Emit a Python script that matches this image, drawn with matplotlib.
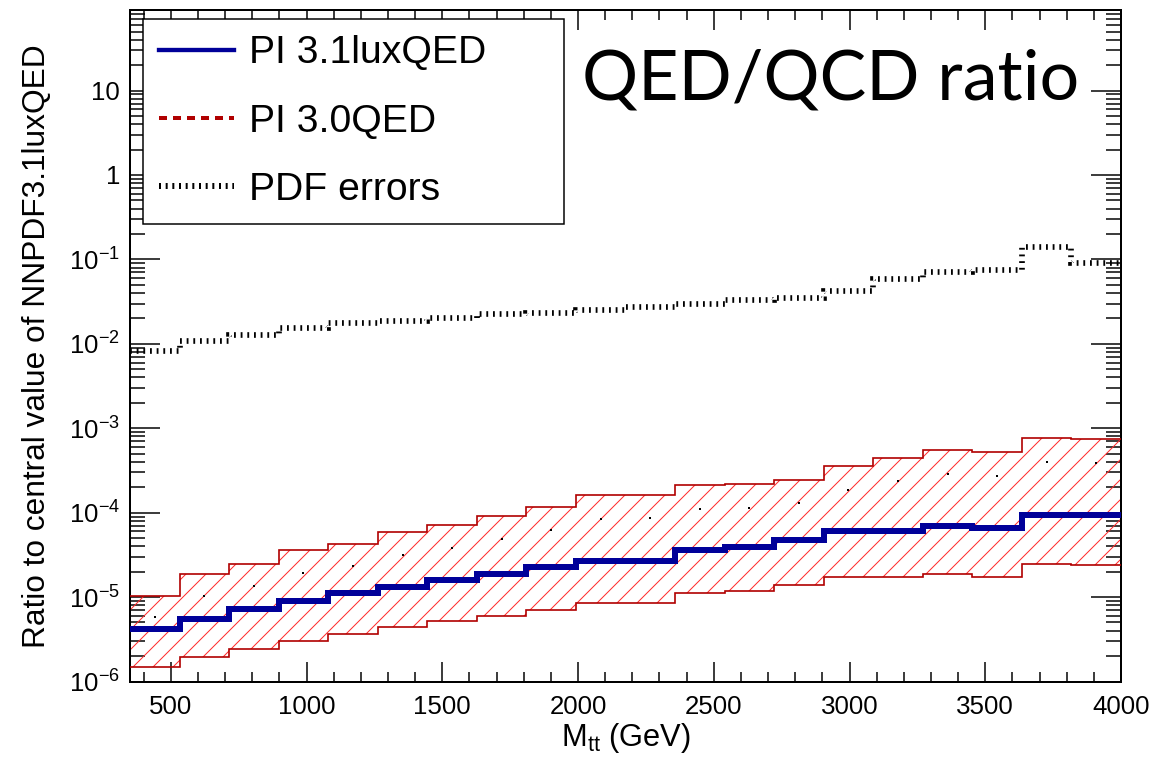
import numpy as np
import matplotlib.pyplot as plt
from matplotlib.lines import Line2D
from matplotlib.ticker import FixedLocator, MultipleLocator, NullFormatter

plt.rcParams['font.family'] = ['Liberation Sans', 'DejaVu Sans']
plt.rcParams['mathtext.fontset'] = 'custom'
plt.rcParams['mathtext.rm'] = 'Liberation Sans'
plt.rcParams['mathtext.it'] = 'Liberation Sans:italic'
plt.rcParams['mathtext.default'] = 'regular'
plt.rcParams['hatch.linewidth'] = 0.6
plt.rcParams['lines.scale_dashes'] = False

# bin edges in M_tt (GeV)
edges = [350, 532.5, 715, 897.5, 1080, 1262.5, 1445, 1627.5, 1810, 1992.5, 2175,
         2357.5, 2540, 2722.5, 2905, 3087.5, 3270, 3452.5, 3635, 3817.5, 4000]

# PI 3.1luxQED central ratio
lux = [4.16e-6, 5.57e-6, 7.2e-6, 8.97e-6, 1.11e-5, 1.33e-5, 1.59e-5, 1.89e-5, 2.28e-5, 2.68e-5,
       2.7e-5, 3.63e-5, 3.9e-5, 4.77e-5, 6.0e-5, 6.1e-5, 6.87e-5, 6.5e-5, 9.46e-5, 9.3e-5]

# PI 3.0QED band (upper / lower) and central dots
qed_up = [1.02e-5, 1.86e-5, 2.47e-5, 3.6e-5, 4.3e-5, 5.9e-5, 7.06e-5, 9.1e-5, 1.18e-4, 1.61e-4,
          1.64e-4, 2.11e-4, 2.17e-4, 2.45e-4, 3.56e-4, 4.48e-4, 5.6e-4, 5.3e-4, 7.6e-4, 7.5e-4]
qed_lo = [1.48e-6, 1.95e-6, 2.45e-6, 3.05e-6, 3.69e-6, 4.39e-6, 5.18e-6, 6.05e-6, 7.06e-6, 8.4e-6,
          8.4e-6, 1.13e-5, 1.18e-5, 1.38e-5, 1.71e-5, 1.71e-5, 1.89e-5, 1.75e-5, 2.49e-5, 2.38e-5]
qed_mid = [5.8e-6, 1.04e-5, 1.36e-5, 1.95e-5, 2.34e-5, 3.16e-5, 3.83e-5, 4.86e-5, 6.28e-5, 8.4e-5,
           8.55e-5, 1.12e-4, 1.15e-4, 1.30e-4, 1.88e-4, 2.34e-4, 2.91e-4, 2.75e-4, 3.94e-4, 3.86e-4]

# PDF errors
pdf_err = [8.2e-3, 1.08e-2, 1.28e-2, 1.55e-2, 1.75e-2, 1.88e-2, 2.02e-2, 2.23e-2, 2.32e-2, 2.49e-2,
           2.74e-2, 2.94e-2, 3.28e-2, 3.5e-2, 4.24e-2, 5.89e-2, 7.0e-2, 7.4e-2, 1.42e-1, 9.1e-2]

ytick_vals = [1e-6, 1e-5, 1e-4, 1e-3, 1e-2, 1e-1, 1, 10]
ytick_labels = ['$10^{-6}$', '$10^{-5}$', '$10^{-4}$', '$10^{-3}$', '$10^{-2}$', '$10^{-1}$', '1', '10']

blue = '#000099'
dred = '#b00000'

fig = plt.figure(figsize=(1154 / 120, 759 / 120), dpi=120)
ax = fig.add_axes([0.1127, 0.1021, 0.8587, 0.8847])

centers = [(a + b) / 2 for a, b in zip(edges[:-1], edges[1:])]

ax.stairs(qed_up, edges, baseline=qed_lo, fill=True, facecolor='none',
          edgecolor='#ff2a2a', linewidth=0, hatch='//', zorder=2)
ax.stairs(qed_up, edges, baseline=None, color=dred, linewidth=1.0, zorder=3)
ax.stairs(qed_lo, edges, baseline=None, color=dred, linewidth=1.0, zorder=3)
ax.plot(centers, qed_mid, 's', color='black', markersize=1.3, markeredgewidth=0, zorder=4)
ax.stairs(lux, edges, baseline=None, color=blue, linewidth=3.6, zorder=5)
pdf_line = ax.stairs(pdf_err, edges, baseline=None, color='black', linewidth=3.4, zorder=5)
pdf_line.set_linestyle((0, (1.1, 2.9)))

ax.set_yscale('log')
ax.set_xlim(350, 4000)
ax.set_ylim(1e-6, 90)

ax.xaxis.set_major_locator(MultipleLocator(500))
ax.xaxis.set_minor_locator(MultipleLocator(100))
ax.yaxis.set_major_locator(FixedLocator(ytick_vals))
ax.set_yticklabels(ytick_labels)
minor_y = [m * 10.0 ** e for e in range(-6, 2) for m in range(2, 10)]
ax.yaxis.set_minor_locator(FixedLocator(minor_y))
ax.yaxis.set_minor_formatter(NullFormatter())

ax.tick_params(axis='both', which='both', direction='in', top=True, right=True,
               width=0.9, labelsize=15.5)
ax.tick_params(axis='x', which='major', length=12, pad=8)
ax.tick_params(axis='x', which='minor', length=6)
ax.tick_params(axis='y', which='major', length=18, pad=6)
ax.tick_params(axis='y', which='minor', length=9)
for s in ax.spines.values():
    s.set_linewidth(1.2)

ax.set_xlabel(r'M$_{\mathrm{tt}}$ (GeV)', fontsize=18.5, labelpad=1)
ax.set_ylabel('Ratio to central value of NNPDF3.1luxQED', fontsize=19, labelpad=10)

ax.text(0.958, 0.866, 'QED/QCD ratio', transform=ax.transAxes, ha='right',
        va='baseline', fontsize=42, family=['Lato', 'DejaVu Sans'], zorder=6)

handles = [Line2D([], [], color=blue, linewidth=2.6),
           Line2D([], [], color=dred, linewidth=2.4, linestyle=(0, (4.8, 3.6))),
           Line2D([], [], color='black', linewidth=3.6, linestyle=(0, (1.2, 2.8)))]
labels = ['PI 3.1luxQED', 'PI 3.0QED', 'PDF errors']
leg = ax.legend(handles, labels, loc='upper left', mode='expand',
                bbox_to_anchor=(0.013, 0.687, 0.425, 0.2996),
                borderaxespad=0, fontsize=23.5, frameon=True, fancybox=False,
                edgecolor='black', framealpha=1, handlelength=1.9, handletextpad=0.4,
                labelspacing=0.82, borderpad=0.42)
leg.get_frame().set_linewidth(0.9)
leg.set_zorder(10)

fig.savefig('out.png', dpi=120)
